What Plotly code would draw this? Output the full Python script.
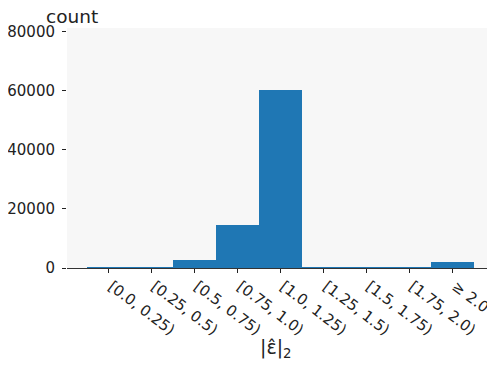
import plotly.graph_objects as go

categories = ["[0.0, 0.25)", "[0.25, 0.5)", "[0.5, 0.75)", "[0.75, 1.0)", "[1.0, 1.25)",
              "[1.25, 1.5)", "[1.5, 1.75)", "[1.75, 2.0)", "≥ 2.0"]
counts = [300, 300, 2700, 14500, 60300, 80, 60, 60, 2100]
y_ticks = [0, 20000, 40000, 60000, 80000]

fig = go.Figure()
fig.add_trace(go.Bar(x=list(range(len(categories))), y=counts, marker=dict(color="#1f77b4", line=dict(width=0)), width=1.0))

font = dict(family="DejaVu Sans", size=15, color="#222")
# page body has an 8px margin: figure sized/offset to compensate
fig.update_layout(
    width=487, height=357,
    margin=dict(l=59, r=3, t=20, b=97),
    paper_bgcolor="white", plot_bgcolor="#f7f7f7",
    showlegend=False, bargap=0, font=font,
)
fig.update_xaxes(
    range=[-0.97, 8.92], tickmode="array", tickvals=list(range(len(categories))), ticktext=categories,
    tickangle=37, ticks="outside", ticklen=4, tickcolor="#222", showline=True, linecolor="#333",
    linewidth=1, showgrid=False, zeroline=False, tickfont=font, automargin=False,
    ticklabelshift=3, ticklabelstandoff=-1, ticklabeloverflow="allow",
)
fig.update_yaxes(
    range=[0, 81200], tickmode="array", tickvals=y_ticks, ticktext=[str(v) for v in y_ticks],
    ticks="outside", ticklen=4, tickcolor="#222", showline=False, showgrid=False, zeroline=False,
    tickfont=font, automargin=False, ticklabelstandoff=4,
)
fig.add_annotation(text="count", xref="paper", yref="paper", x=0.011, y=1.0, xanchor="center", yanchor="bottom",
                   showarrow=False, font=dict(family="DejaVu Sans", size=18.5, color="#222"), yshift=-1)
fig.add_annotation(text="|ε̂|<sub>2</sub>", xref="paper", yref="paper", x=0.492, y=0, xanchor="center", yanchor="top",
                   showarrow=False, font=dict(family="DejaVu Sans", size=19, color="#222"), yshift=-66)
fig.write_html("out.html")
